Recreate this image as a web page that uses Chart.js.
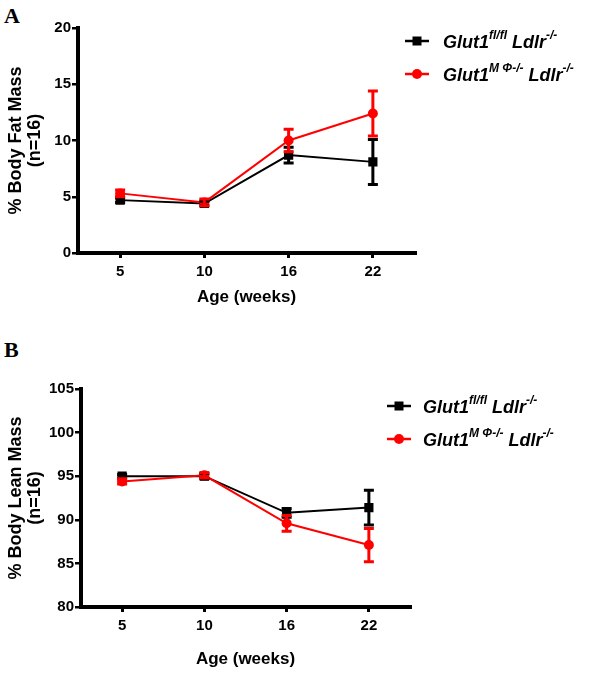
<!DOCTYPE html>
<html>
<head>
<meta charset="utf-8">
<script src="https://cdn.jsdelivr.net/npm/chart.js@4.4.1/dist/chart.umd.min.js"></script>
<style>
  html, body { margin: 0; padding: 0; background: #fff; }
  #wrap { position: relative; width: 601px; height: 682px; overflow: hidden; }
  canvas { position: absolute; left: 0; }
  .panel { position: absolute; left: 4px; font: bold 22px "Liberation Serif", "Times New Roman", serif; color: #000; }
</style>
</head>
<body>
<div id="wrap">
  <div class="panel" style="top:3px">A</div>
  <canvas id="fat" width="601" height="330" style="top:0"></canvas>
  <div class="panel" style="top:337px">B</div>
  <canvas id="lean" width="601" height="352" style="top:330px"></canvas>
</div>
<script>
// ages (weeks)
const ages = ["5", "10", "16", "22"];

// % body fat mass, mean and SEM
const fatFlox = [4.7, 4.4, 8.7, 8.1];
const fatFloxErr = [0.2, 0.2, 0.7, 2.0];
const fatKo = [5.3, 4.5, 10.0, 12.4];
const fatKoErr = [0.3, 0.3, 1.0, 2.0];

// % body lean mass, mean and SEM
const leanFlox = [95.0, 95.0, 90.8, 91.4];
const leanFloxErr = [0.2, 0.3, 0.5, 2.0];
const leanKo = [94.4, 95.1, 89.6, 87.1];
const leanKoErr = [0.3, 0.3, 0.9, 1.9];

// legend text pieces (sup = superscript)
const floxLabel = [{ t: "Glut1" }, { t: "fl/fl", sup: true }, { t: " Ldlr" }, { t: "-/-", sup: true }];
const koLabel = [{ t: "Glut1" }, { t: "M \u03A6-/-", sup: true }, { t: " Ldlr" }, { t: "-/-", sup: true }];

const FONT = "'Liberation Sans', Arial, sans-serif";

// vertical SEM bars with caps
const errorBars = {
  id: "errorBars",
  afterDatasetsDraw(chart) {
    const ctx = chart.ctx;
    const y = chart.scales.y;
    chart.data.datasets.forEach((ds, i) => {
      const meta = chart.getDatasetMeta(i);
      ctx.save();
      ctx.strokeStyle = ds.borderColor;
      ctx.lineWidth = 3;
      meta.data.forEach((pt, j) => {
        const top = y.getPixelForValue(ds.data[j] + ds.errors[j]);
        const bot = y.getPixelForValue(ds.data[j] - ds.errors[j]);
        ctx.beginPath();
        ctx.moveTo(pt.x, top);
        ctx.lineTo(pt.x, bot);
        ctx.moveTo(pt.x - 5, top);
        ctx.lineTo(pt.x + 5, top);
        ctx.moveTo(pt.x - 5, bot);
        ctx.lineTo(pt.x + 5, bot);
        ctx.stroke();
      });
      ctx.restore();
    });
  }
};

// legend with superscripts, drawn on the canvas
const supLegend = {
  id: "supLegend",
  afterDraw(chart, args, opts) {
    const ctx = chart.ctx;
    chart.data.datasets.forEach((ds, i) => {
      const y = opts.y + i * opts.gap;
      ctx.save();
      ctx.strokeStyle = ds.borderColor;
      ctx.fillStyle = ds.borderColor;
      ctx.lineWidth = 2.5;
      ctx.beginPath();
      ctx.moveTo(opts.x, y);
      ctx.lineTo(opts.x + 24, y);
      ctx.stroke();
      const cx = opts.x + 12;
      if (ds.pointStyle === "rect") {
        ctx.fillRect(cx - 4.5, y - 4.5, 9, 9);
      } else {
        ctx.beginPath();
        ctx.arc(cx, y, 5, 0, Math.PI * 2);
        ctx.fill();
      }
      ctx.fillStyle = "#000";
      ctx.textBaseline = "alphabetic";
      let tx = opts.textX;
      ds.labelParts.forEach(p => {
        ctx.font = p.sup ? "italic bold 12px " + FONT : "italic bold 18px " + FONT;
        ctx.fillText(p.t, tx, p.sup ? y - 2 : y + 7);
        tx += ctx.measureText(p.t).width;
      });
      ctx.restore();
    });
  }
};

function makeChart(id, g) {
  const H = document.getElementById(id).height;
  return new Chart(document.getElementById(id), {
    type: "line",
    data: {
      labels: ages,
      datasets: [
        {
          data: g.flox, errors: g.floxErr, labelParts: floxLabel,
          borderColor: "#000", backgroundColor: "#000",
          borderWidth: 2, pointStyle: "rect", pointRadius: 6.5, pointBorderWidth: 0,
          order: 1
        },
        {
          data: g.ko, errors: g.koErr, labelParts: koLabel,
          borderColor: "#f00", backgroundColor: "#f00",
          borderWidth: 2, pointStyle: "circle", pointRadius: 5, pointBorderWidth: 0,
          order: 0
        }
      ]
    },
    options: {
      responsive: false,
      animation: false,
      layout: { padding: { left: 0, right: 601 - g.right, top: g.top, bottom: 0 } },
      plugins: {
        legend: { display: false },
        tooltip: { enabled: false },
        supLegend: g.legend
      },
      scales: {
        x: {
          offset: true,
          ticks: { color: "#000", font: { family: FONT, size: 15, weight: "bold" }, padding: 5 },
          grid: { drawOnChartArea: false, tickLength: 5, color: "#000", lineWidth: 3 },
          border: { color: "#000", width: 4 },
          title: {
            display: true, text: "Age (weeks)", color: "#000",
            font: { family: FONT, size: 17, weight: "bold" },
            padding: { top: 0, bottom: g.xTitlePad }
          },
          afterFit(s) { s.height = H - g.bottom; }
        },
        y: {
          min: g.min, max: g.max,
          ticks: { stepSize: 5, color: "#000", font: { family: FONT, size: 15, weight: "bold" }, padding: 1 },
          grid: { drawOnChartArea: false, tickLength: 6, color: "#000", lineWidth: 2.5 },
          border: { color: "#000", width: 4 },
          title: {
            display: true, text: [g.yTitle, "(n=16)"], color: "#000",
            font: { family: FONT, size: 18, weight: "bold", lineHeight: 1.05 },
            padding: { top: 7, bottom: 0 }
          },
          afterFit(s) { s.width = g.left; }
        }
      }
    },
    plugins: [errorBars, supLegend]
  });
}

makeChart("fat", {
  flox: fatFlox, floxErr: fatFloxErr, ko: fatKo, koErr: fatKoErr,
  min: 0, max: 20, yTitle: "% Body Fat Mass",
  left: 78, right: 415, top: 28, bottom: 253, xTitlePad: 22,
  legend: { x: 405, textX: 443, y: 41, gap: 33 }
});

makeChart("lean", {
  flox: leanFlox, floxErr: leanFloxErr, ko: leanKo, koErr: leanKoErr,
  min: 80, max: 105, yTitle: "% Body Lean Mass",
  left: 81, right: 410, top: 59, bottom: 277, xTitlePad: 12,
  legend: { x: 387, textX: 423, y: 76, gap: 33 }
});
</script>
</body>
</html>
